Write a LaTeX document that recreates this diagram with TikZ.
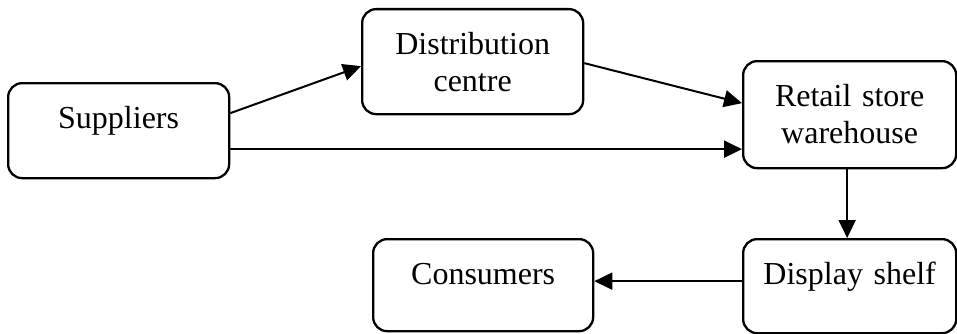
\documentclass[tikz,border=0pt]{standalone}
\usepackage{fontspec}
\setmainfont{Liberation Serif}
\usetikzlibrary{arrows.meta}

\tikzset{
  flowbox/.style={draw, line width=2.3pt, rounded corners=14pt,
    inner xsep=0pt, inner ysep=0pt, align=center,
    font=\fontsize{32}{37}\selectfont, anchor=north west,
    text height=45pt},
  flowarrow/.style={line width=2pt,
    -{Triangle[length=18pt,width=17pt]}}
}

\begin{document}
\begin{tikzpicture}[x=1pt,y=1pt]
  \useasboundingbox (0,0) rectangle (957,333);

  % supply chain stages
  \node[flowbox, text width=221pt, text depth=50pt] (sup) at (7,251) {Suppliers};
  \node[flowbox, text width=221pt, text depth=60pt] (dist) at (361,325) {Distribution\\centre};
  \node[flowbox, text width=213pt, text depth=62pt] (ret) at (742,273) {Retail store\\warehouse};
  \node[flowbox, text width=213pt, text depth=49pt] (disp) at (742,95) {Display shelf};
  \node[flowbox, text width=220pt, text depth=47pt] (cons) at (372,95) {Consumers};

  % flows between stages
  \draw[flowarrow] ([yshift=17.5pt]sup.east) -- ([yshift=-4.5pt]dist.west);
  \draw[flowarrow] ([yshift=-1.5pt]dist.east) -- ([yshift=11.5pt]ret.west);
  \draw[flowarrow] ([yshift=-18.5pt]sup.east) -- ([yshift=-34.5pt]ret.west);
  \draw[flowarrow] ([xshift=-2.5pt]ret.south) -- ([xshift=-2.5pt]disp.north);
  \draw[flowarrow] ([yshift=5pt]disp.west) -- ([yshift=4pt]cons.east);
\end{tikzpicture}
\end{document}
